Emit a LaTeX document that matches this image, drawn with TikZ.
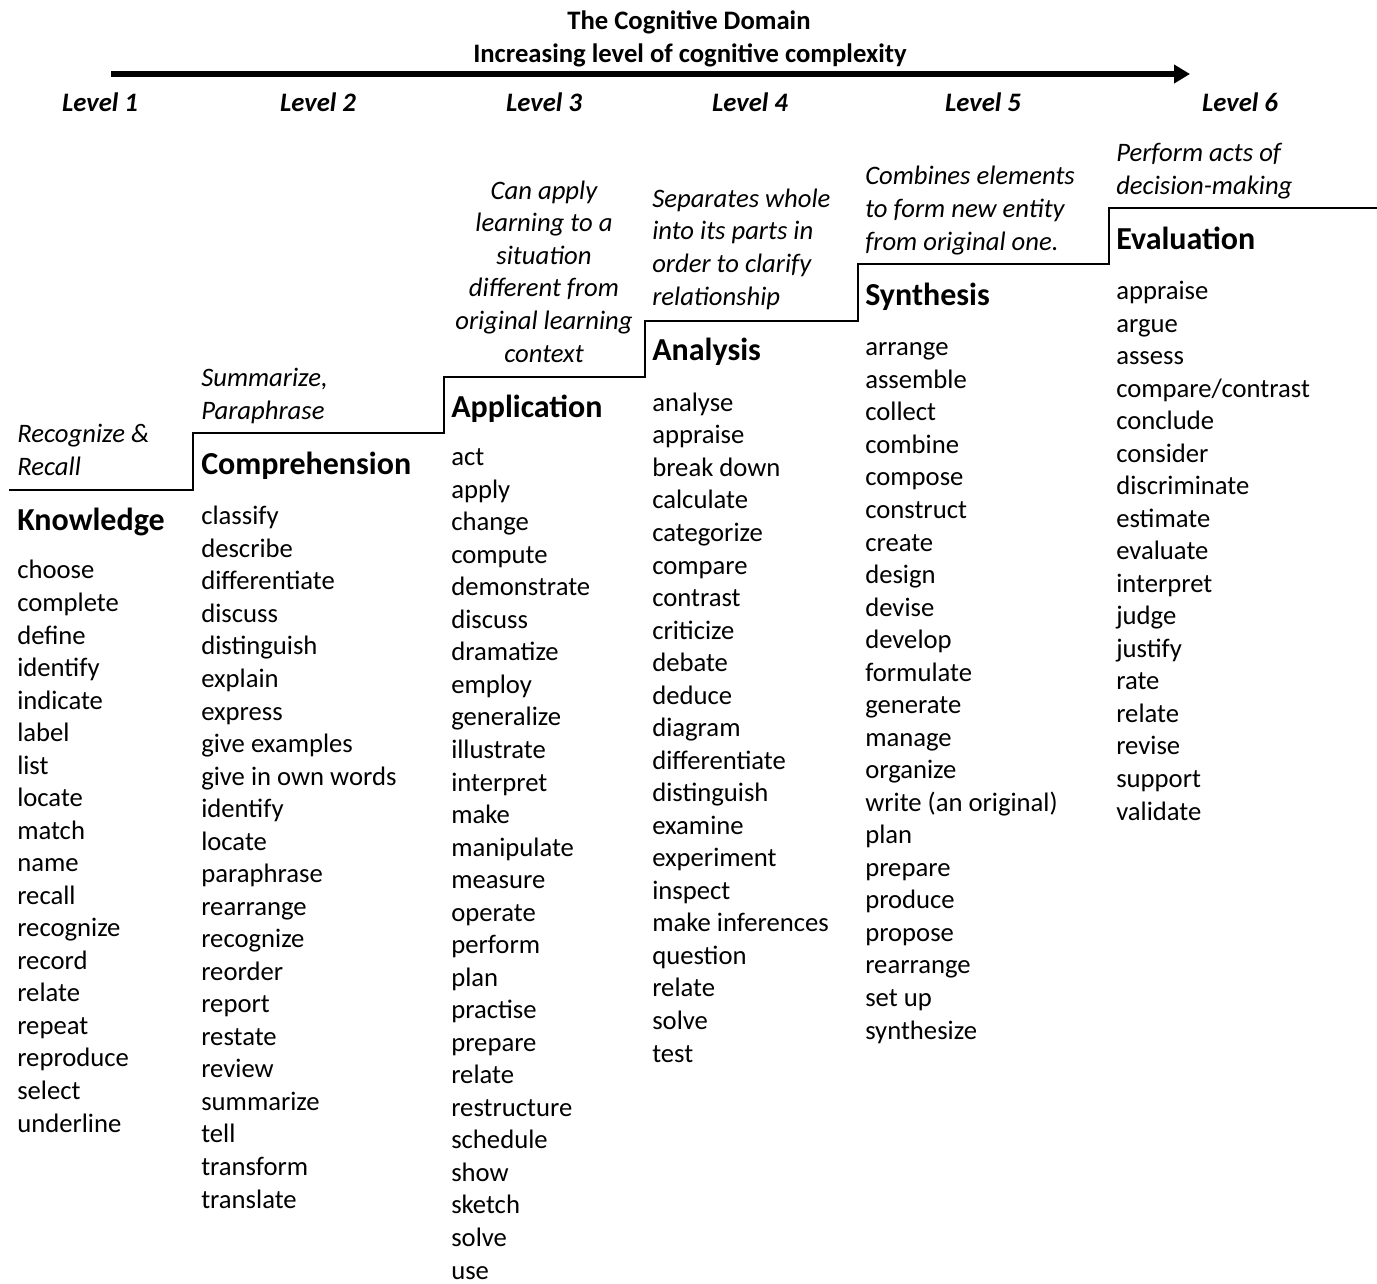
\documentclass[tikz,border=0pt]{standalone}
\usepackage{fontspec}
\setmainfont{Carlito}
\usetikzlibrary{arrows.meta}

\begin{document}
\begin{tikzpicture}[x=0.75pt, y=-0.75pt,
    words/.style={anchor=base west, inner sep=0pt, align=left, font=\fontsize{20}{24.4}\selectfont},
    descr/.style={words, font=\fontsize{20}{24.4}\selectfont\itshape},
    heading/.style={anchor=base west, inner sep=0pt, font=\fontsize{24}{29}\selectfont\bfseries},
    levellabel/.style={anchor=base, inner sep=0pt, font=\fontsize{20}{24}\selectfont\bfseries\itshape},
    titletext/.style={anchor=base, inner sep=0pt, font=\fontsize{20}{24}\selectfont\bfseries}]

    \useasboundingbox (0,0) rectangle (1377,1283);

    % title and arrow
    \node[titletext] (title) at (689,29) {The Cognitive Domain};
    \node[titletext] (subtitle) at (690,62) {Increasing level of cognitive complexity};
    \coordinate (arrowstart) at (111,74);
    \coordinate (arrowend) at (1190,74);
    \draw[line width=4.5pt, -{Triangle[length=12pt,width=13.5pt]}] (arrowstart) -- (arrowend);

    \node[levellabel] (lev1) at (100,111) {Level 1};
    \node[levellabel] (lev2) at (318,111) {Level 2};
    \node[levellabel] (lev3) at (544,111) {Level 3};
    \node[levellabel] (lev4) at (750,111) {Level 4};
    \node[levellabel] (lev5) at (983,111) {Level 5};
    \node[levellabel] (lev6) at (1240,111) {Level 6};

    % the steps
    \draw[line width=1.5pt] (9,490) -- (193,490) -- (193,433) -- (444,433) -- (444,377)
        -- (645,377) -- (645,321) -- (858,321) -- (858,264) -- (1109,264) -- (1109,208) -- (1377,208);

    % level 1 (multi-line nodes sit on their last baseline)
    \node[descr] (knowdescr) at (17,475) {Recognize \&\\Recall};
    \node[heading] (knowledge) at (17,530) {Knowledge};
    \node[words] (knowwords) at (17,1132) {choose\\complete\\define\\identify\\indicate\\label\\list\\locate\\match\\name\\recall\\recognize\\record\\relate\\repeat\\reproduce\\select\\underline};

    % level 2
    \node[descr] (compdescr) at (201,419) {Summarize,\\Paraphrase};
    \node[heading] (comprehension) at (201,474) {Comprehension};
    \node[words] (compwords) at (201,1208) {classify\\describe\\differentiate\\discuss\\distinguish\\explain\\express\\give examples\\give in own words\\identify\\locate\\paraphrase\\rearrange\\recognize\\reorder\\report\\restate\\review\\summarize\\tell\\transform\\translate};

    % level 3
    \node[descr, align=center, anchor=base] (appldescr) at (544,362) {Can apply\\learning to a\\situation\\different from\\original learning\\context};
    \node[heading] (application) at (451,417) {Application};
    \node[words] (applwords) at (451,1279) {act\\apply\\change\\compute\\demonstrate\\discuss\\dramatize\\employ\\generalize\\illustrate\\interpret\\make\\manipulate\\measure\\operate\\perform\\plan\\practise\\prepare\\relate\\restructure\\schedule\\show\\sketch\\solve\\use};

    % level 4
    \node[descr] (analdescr) at (652,305) {Separates whole\\into its parts in\\order to clarify\\relationship};
    \node[heading] (analysis) at (652,360) {Analysis};
    \node[words] (analwords) at (652,1062) {analyse\\appraise\\break down\\calculate\\categorize\\compare\\contrast\\criticize\\debate\\deduce\\diagram\\differentiate\\distinguish\\examine\\experiment\\inspect\\make inferences\\question\\relate\\solve\\test};

    % level 5
    \node[descr] (synthdescr) at (865,250) {Combines elements\\to form new entity\\from original one.};
    \node[heading] (synthesis) at (865,305) {Synthesis};
    \node[words] (synthwords) at (865,1039) {arrange\\assemble\\collect\\combine\\compose\\construct\\create\\design\\devise\\develop\\formulate\\generate\\manage\\organize\\write (an original)\\plan\\prepare\\produce\\propose\\rearrange\\set up\\synthesize};

    % level 6
    \node[descr] (evaldescr) at (1116,194) {Perform acts of\\decision-making};
    \node[heading] (evaluation) at (1116,249) {Evaluation};
    \node[words] (evalwords) at (1116,820) {appraise\\argue\\assess\\compare/contrast\\conclude\\consider\\discriminate\\estimate\\evaluate\\interpret\\judge\\justify\\rate\\relate\\revise\\support\\validate};

\end{tikzpicture}
\end{document}
